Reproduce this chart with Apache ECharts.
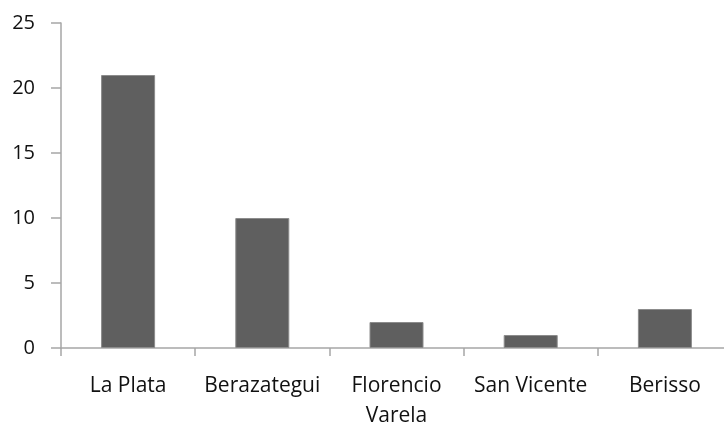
<!DOCTYPE html>
<html>
<head>
<meta charset="utf-8">
<script src="https://cdn.jsdelivr.net/npm/echarts@6/dist/echarts.min.js"></script>
<style>
  html, body { margin: 0; padding: 0; background: #fff; }
  #chart { width: 724px; height: 429px; }
</style>
</head>
<body>
<div id="chart"></div>
<script>
const categories = ['La Plata', 'Berazategui', 'Florencio\nVarela', 'San Vicente', 'Berisso']
const values = [21, 10, 2, 1, 3]
const yTicks = [0, 5, 10, 15, 20, 25]

const chart = echarts.init(document.getElementById('chart'))

const axisColor = '#a6a6a6'
const labelFont = '"Open Sans", "Noto Sans", sans-serif'

chart.setOption({
  animation: false,
  // the plot runs a bit past the right edge of the picture
  grid: { left: 61, width: 671, top: 23, bottom: 81, outerBoundsMode: 'none' },
  xAxis: {
    type: 'category',
    data: categories,
    axisLine: { lineStyle: { color: axisColor, width: 1.5 } },
    axisTick: { show: true, length: 8, lineStyle: { color: axisColor, width: 1.5 } },
    axisLabel: {
      color: '#111', fontSize: 21, fontFamily: labelFont, margin: 23, lineHeight: 30,
      interval: 0
    }
  },
  yAxis: {
    type: 'value',
    min: yTicks[0],
    max: yTicks[yTicks.length - 1],
    interval: 5,
    splitLine: { show: false },
    axisLine: { show: true, lineStyle: { color: axisColor, width: 1.5 } },
    axisTick: { show: true, length: 10, lineStyle: { color: axisColor, width: 1.5 } },
    axisLabel: {
      color: '#111', fontSize: 20, fontFamily: labelFont, margin: 26
    }
  },
  series: [{
    type: 'bar',
    data: values,
    barWidth: 54,
    itemStyle: { color: '#5f5f5f', borderColor: '#8c8c8c', borderWidth: 1 }
  }]
})
</script>
</body>
</html>
